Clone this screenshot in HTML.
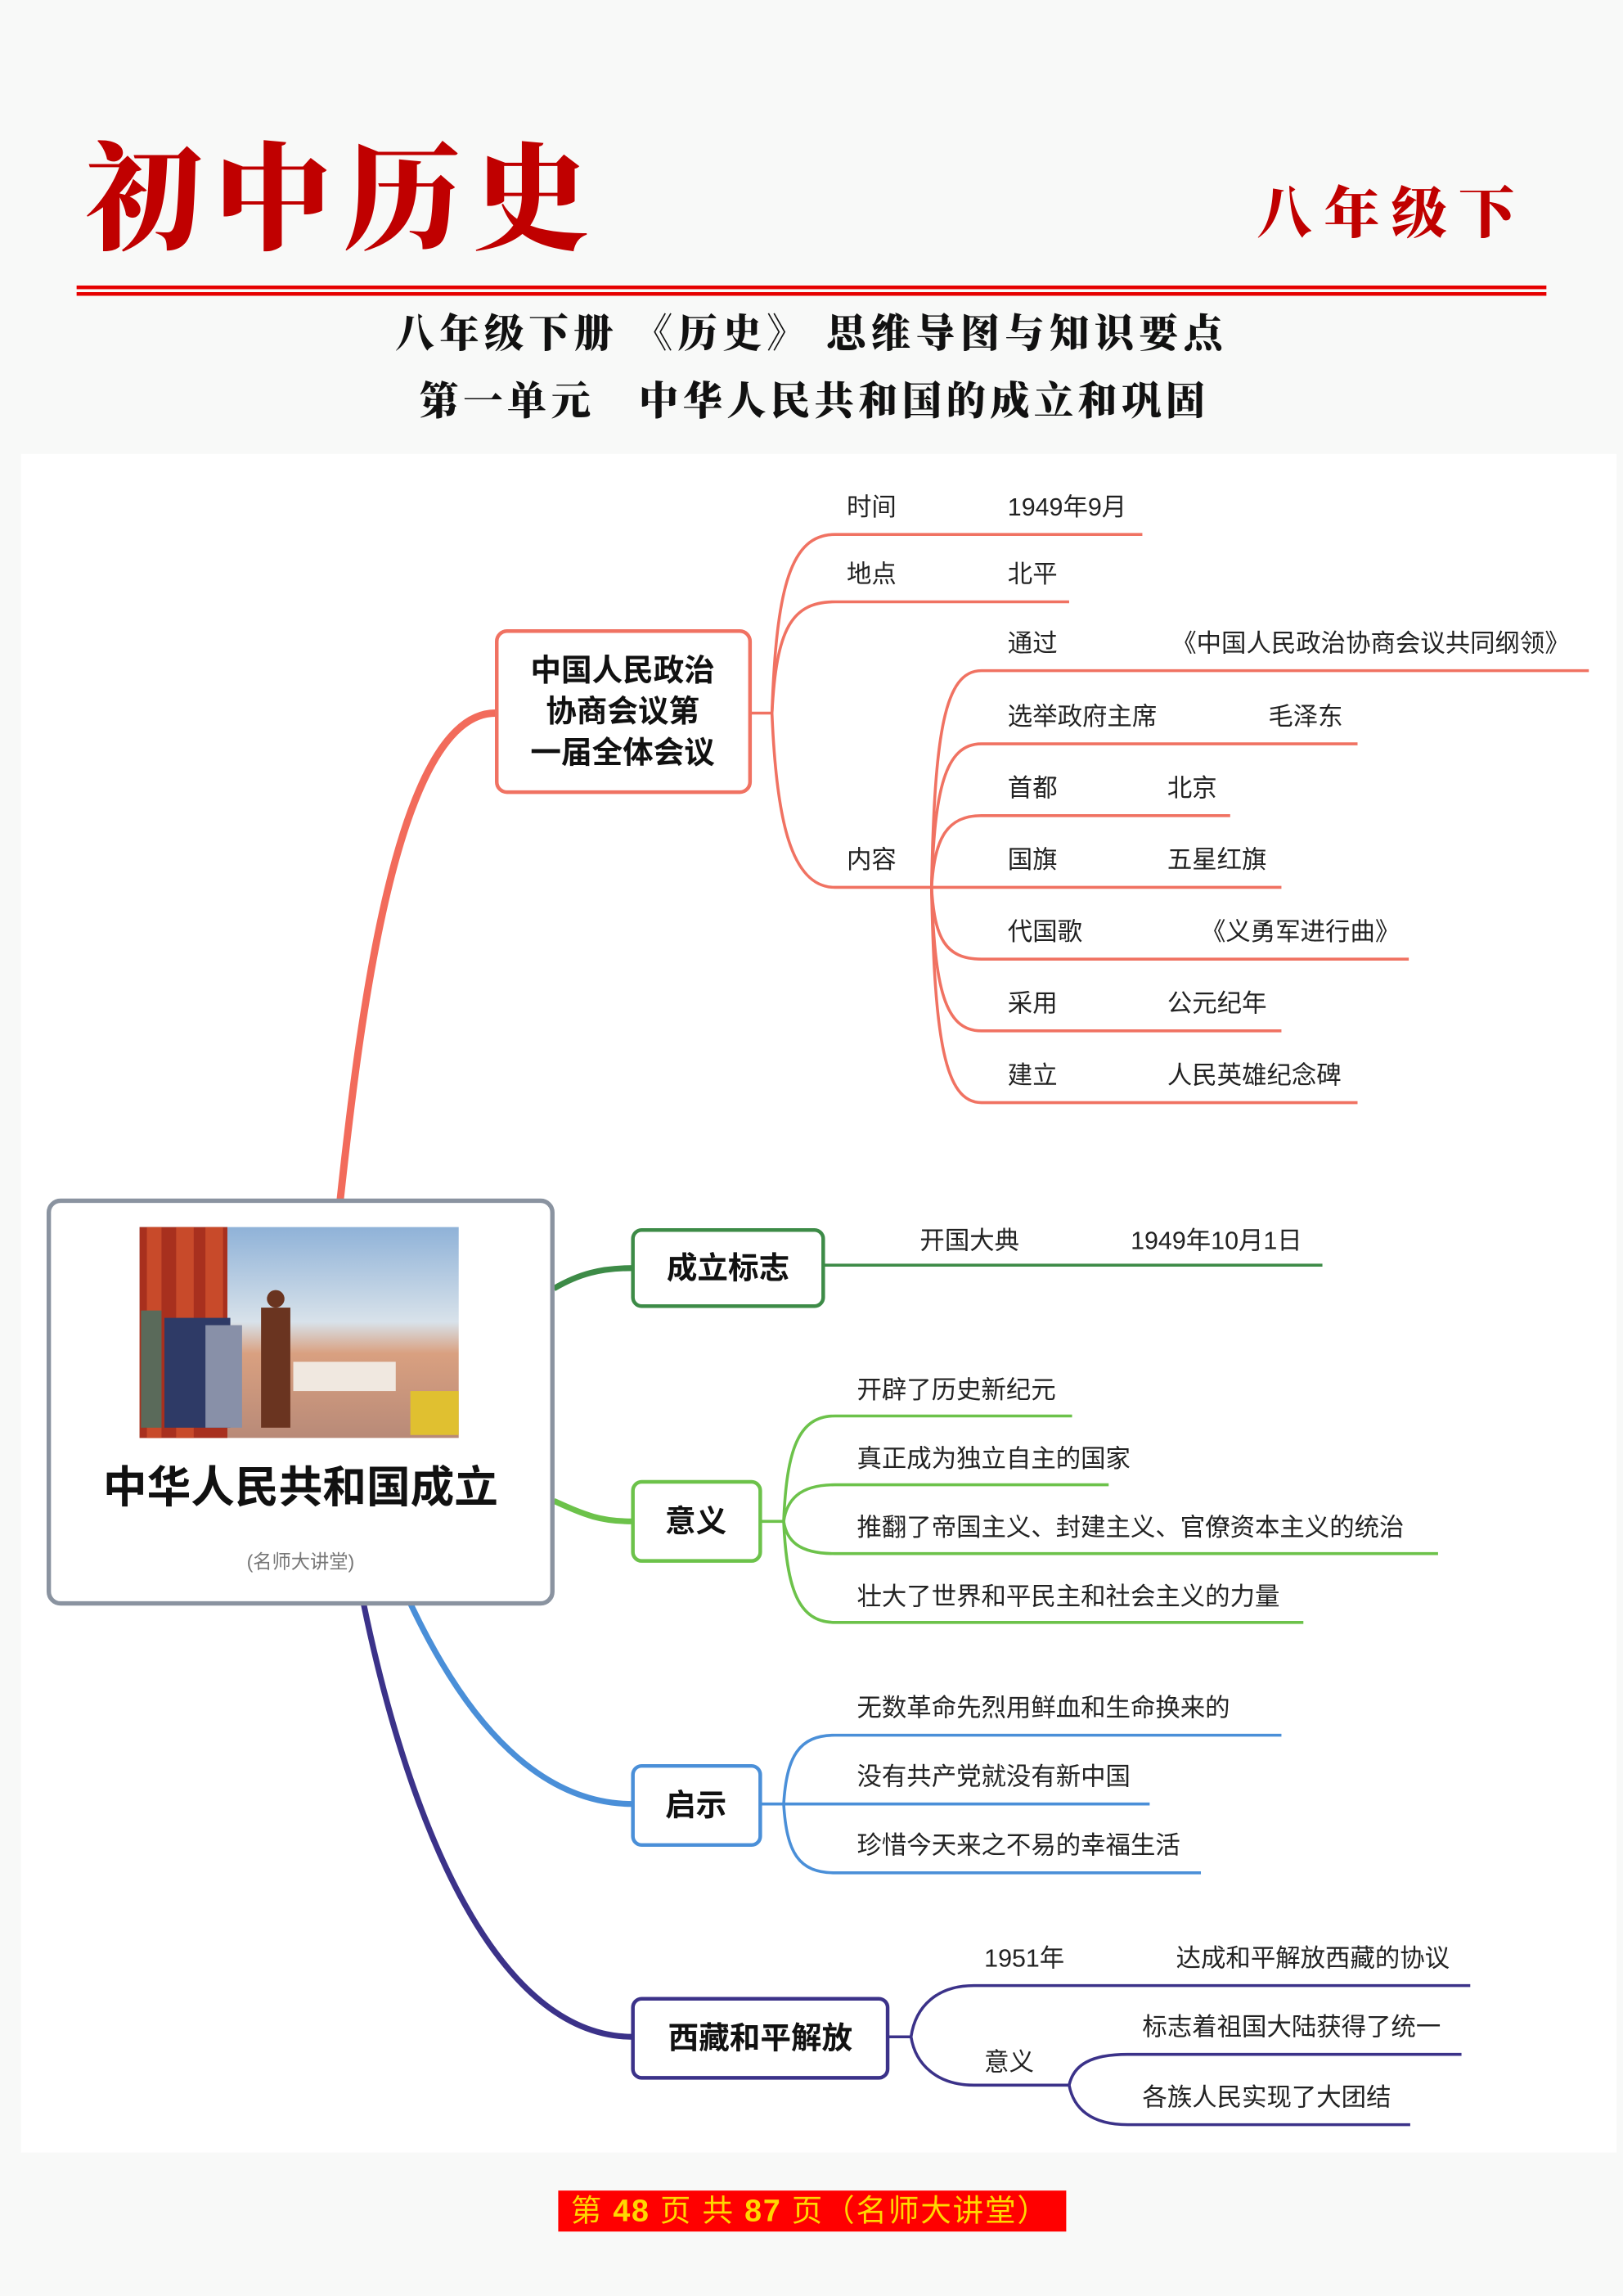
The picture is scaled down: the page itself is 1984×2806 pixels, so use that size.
<!DOCTYPE html>
<html><head><meta charset="utf-8"><style>
html,body{margin:0;padding:0;background:#f8f9f8;}
svg{display:block;}
text{font-family:"Liberation Sans","Noto Sans CJK SC",sans-serif;}
.t{font-size:17px;fill:#222;}
.n{font-size:21px;font-weight:bold;fill:#111;}
.h{font-family:"Noto Serif CJK SC","Liberation Serif",serif;font-weight:900;}
</style></head><body>
<svg width="1984" height="2806" viewBox="0 0 1108 1568" xmlns="http://www.w3.org/2000/svg">
<rect width="1108" height="1568" fill="#f8f9f8"/>
<text x="58" y="164" class="h" font-size="80" fill="#c00000" letter-spacing="8">初中历史</text>
<text x="858" y="159" class="h" font-size="38" fill="#c00000" letter-spacing="8">八年级下</text>
<rect x="52" y="195" width="1004" height="2.5" fill="#e60000"/>
<rect x="52" y="199.5" width="1004" height="2.5" fill="#e60000"/>
<text x="554" y="237" class="h" font-size="27" fill="#111" text-anchor="middle" letter-spacing="3.5">八年级下册 《历史》 思维导图与知识要点</text>
<text x="556" y="283" class="h" font-size="27" fill="#111" text-anchor="middle" letter-spacing="3">第一单元　中华人民共和国的成立和巩固</text>
<rect x="14" y="310" width="1090" height="1160" fill="#fff"/>

<!-- branch 1 red -->
<g fill="none" stroke="#f07262" stroke-width="2">
<path d="M232 820 C245 700 270 487 338 487" stroke="#f26b5b" stroke-width="5"/>
<path d="M512 487 H527"/>
<path d="M527 487 C530 400 540 365 570 365 H780"/>
<path d="M527 487 C530 430 540 411 570 411 H730"/>
<path d="M527 487 C530 560 540 606 570 606 H636"/>
<path d="M636 606 C638 500 645 458 670 458 H1085"/>
<path d="M636 606 C638 540 645 508 670 508 H927"/>
<path d="M636 606 C638 575 645 557 670 557 H840"/>
<path d="M636 606 H875"/>
<path d="M636 606 C638 640 645 655 670 655 H962"/>
<path d="M636 606 C638 675 645 704 670 704 H875"/>
<path d="M636 606 C638 710 645 753 670 753 H927"/>
</g>
<rect x="339" y="431" width="173" height="110" rx="7" fill="#fff" stroke="#f07262" stroke-width="2.5"/>
<text class="n" x="425" y="465" text-anchor="middle">中国人民政治</text>
<text class="n" x="425" y="493" text-anchor="middle">协商会议第</text>
<text class="n" x="425" y="521" text-anchor="middle">一届全体会议</text>
<text class="t" x="578" y="352">时间</text><text class="t" x="688" y="352">1949年9月</text>
<text class="t" x="578" y="398">地点</text><text class="t" x="688" y="398">北平</text>
<text class="t" x="578" y="593">内容</text>
<text class="t" x="688" y="445">通过</text><text class="t" x="800" y="445">《中国人民政治协商会议共同纲领》</text>
<text class="t" x="688" y="495">选举政府主席</text><text class="t" x="866" y="495">毛泽东</text>
<text class="t" x="688" y="544">首都</text><text class="t" x="797" y="544">北京</text>
<text class="t" x="688" y="593">国旗</text><text class="t" x="797" y="593">五星红旗</text>
<text class="t" x="688" y="642">代国歌</text><text class="t" x="820" y="642">《义勇军进行曲》</text>
<text class="t" x="688" y="691">采用</text><text class="t" x="797" y="691">公元纪年</text>
<text class="t" x="688" y="740">建立</text><text class="t" x="797" y="740">人民英雄纪念碑</text>

<!-- branch 2 dark green -->
<path d="M378 880 C395 870 410 866 432 866" fill="none" stroke="#3d8b47" stroke-width="4"/>
<path d="M562 864 H903" fill="none" stroke="#3d8b47" stroke-width="2"/>
<rect x="432" y="840" width="130" height="52" rx="6" fill="#fff" stroke="#3d8b47" stroke-width="2.5"/>
<text class="n" x="497" y="873" text-anchor="middle">成立标志</text>
<text class="t" x="628" y="853">开国大典</text><text class="t" x="772" y="853">1949年10月1日</text>

<!-- branch 3 light green -->
<g fill="none" stroke="#6cc24a" stroke-width="2">
<path d="M378 1025 C400 1035 410 1039 432 1039" stroke-width="4"/>
<path d="M519 1039 H535"/>
<path d="M535 1039 C537 990 545 967 570 967 H732"/>
<path d="M535 1039 C537 1025 545 1014 570 1014 H757"/>
<path d="M535 1039 C537 1052 545 1061 570 1061 H982"/>
<path d="M535 1039 C537 1085 545 1108 570 1108 H890"/>
</g>
<rect x="432" y="1012" width="87" height="54" rx="6" fill="#fff" stroke="#6cc24a" stroke-width="2.5"/>
<text class="n" x="475" y="1046" text-anchor="middle">意义</text>
<text class="t" x="585" y="955">开辟了历史新纪元</text>
<text class="t" x="585" y="1002">真正成为独立自主的国家</text>
<text class="t" x="585" y="1049">推翻了帝国主义、封建主义、官僚资本主义的统治</text>
<text class="t" x="585" y="1096">壮大了世界和平民主和社会主义的力量</text>

<!-- branch 4 blue -->
<g fill="none" stroke="#4a8fd8" stroke-width="2">
<path d="M280 1095 C320 1180 370 1232 432 1232" stroke-width="4"/>
<path d="M519 1232 H535"/>
<path d="M535 1232 C537 1200 545 1185 570 1185 H875"/>
<path d="M535 1232 H785"/>
<path d="M535 1232 C537 1265 545 1279 570 1279 H820"/>
</g>
<rect x="432" y="1206" width="87" height="54" rx="6" fill="#fff" stroke="#4a8fd8" stroke-width="2.5"/>
<text class="n" x="475" y="1240" text-anchor="middle">启示</text>
<text class="t" x="585" y="1172">无数革命先烈用鲜血和生命换来的</text>
<text class="t" x="585" y="1219">没有共产党就没有新中国</text>
<text class="t" x="585" y="1266">珍惜今天来之不易的幸福生活</text>

<!-- branch 5 purple -->
<g fill="none" stroke="#3b3289" stroke-width="2">
<path d="M248 1095 C280 1250 340 1391 432 1391" stroke-width="4"/>
<path d="M606 1391 H622"/>
<path d="M622 1391 C625 1370 640 1356 665 1356 H1004"/>
<path d="M622 1391 C625 1410 640 1424 665 1424 H730"/>
<path d="M730 1424 C733 1410 745 1403 770 1403 H998"/>
<path d="M730 1424 C733 1440 745 1451 770 1451 H963"/>
</g>
<rect x="432" y="1365" width="174" height="54" rx="6" fill="#fff" stroke="#3b3289" stroke-width="2.5"/>
<text class="n" x="519" y="1399" text-anchor="middle">西藏和平解放</text>
<text class="t" x="672" y="1343">1951年</text><text class="t" x="803" y="1343">达成和平解放西藏的协议</text>
<text class="t" x="672" y="1414">意义</text>
<text class="t" x="780" y="1390">标志着祖国大陆获得了统一</text>
<text class="t" x="780" y="1438">各族人民实现了大团结</text>

<!-- central node -->
<rect x="33" y="820" width="344" height="275" rx="8" fill="#fff" stroke="#8a93a0" stroke-width="3"/>
<defs>
<linearGradient id="sky" x1="0" y1="0" x2="0" y2="1"><stop offset="0" stop-color="#8fb2d8"/><stop offset="0.45" stop-color="#d8e2ea"/><stop offset="0.6" stop-color="#d9a080"/><stop offset="1" stop-color="#b88a78"/></linearGradient>
</defs>
<rect x="95" y="838" width="218" height="144" fill="url(#sky)"/>
<rect x="95" y="838" width="60" height="144" fill="#a8301e"/>
<rect x="100" y="838" width="10" height="144" fill="#c84a2a"/>
<rect x="120" y="838" width="12" height="144" fill="#c84a2a"/>
<rect x="140" y="838" width="12" height="120" fill="#c84a2a"/>
<rect x="96" y="895" width="14" height="80" fill="#5a6a5a"/>
<rect x="112" y="900" width="45" height="75" fill="#2e3a66"/>
<rect x="140" y="905" width="25" height="70" fill="#8890a8"/>
<rect x="178" y="893" width="20" height="82" fill="#6a3420"/>
<circle cx="188" cy="887" r="6" fill="#6a3420"/>
<rect x="200" y="930" width="70" height="20" fill="#f0e8e0"/>
<rect x="280" y="950" width="33" height="30" fill="#e0c030"/>
<text x="205" y="1026" text-anchor="middle" font-size="30" font-weight="bold" fill="#111">中华人民共和国成立</text>
<text x="205" y="1071" text-anchor="middle" font-size="13" fill="#777">(名师大讲堂)</text>

<!-- footer -->
<rect x="381" y="1496" width="347" height="28" fill="#ff0000"/>
<text x="553" y="1517" text-anchor="middle" font-size="21" fill="#ffd700" font-family="Noto Serif CJK SC, serif" letter-spacing="1">第 <tspan font-weight="bold">48</tspan> 页 共 <tspan font-weight="bold">87</tspan> 页（名师大讲堂）</text>
</svg>
</body></html>
